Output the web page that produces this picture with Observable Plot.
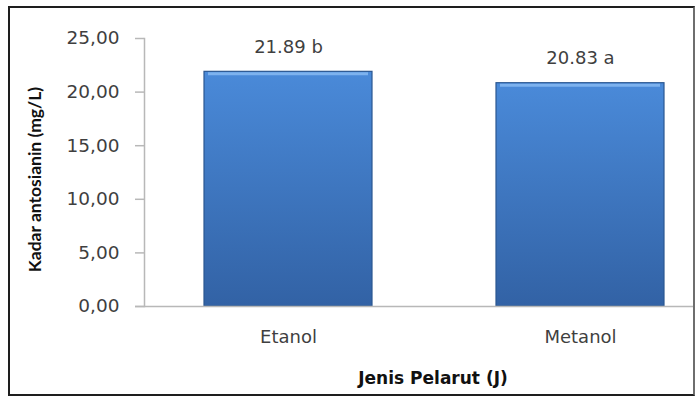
<!DOCTYPE html>
<html><head><meta charset="utf-8">
<script src="https://cdn.jsdelivr.net/npm/d3@7"></script>
<script src="https://cdn.jsdelivr.net/npm/@observablehq/plot@0.6"></script>
<style>
body{margin:0;background:#fff;}
#wrap{position:relative;width:697px;height:396px;overflow:hidden;}
#border{position:absolute;left:8px;top:6px;width:683px;height:386px;border:2px solid #1e1e1e;border-right-color:#6e6e6e;pointer-events:none;}
#wrap svg{position:absolute;left:0;top:0;}
</style></head><body><div id="wrap"><div id="border"></div></div>
<script>
const solvents = ["Etanol", "Metanol"];
const values = [21.89, 20.83];
const letters = ["b", "a"];
const yTicks = [0, 5, 10, 15, 20, 25];
const xTitle = "Jenis Pelarut (J)";
const yTitle = "Kadar antosianin (mg/L)";

const data = solvents.map((s, i) => ({solvent: s, value: values[i], label: values[i].toFixed(2) + " " + letters[i]}));
const fmt = d => d3.format(".2f")(d).replace(".", ",");
const txt = "#3f3f3f";
const axisGray = "#b8b8b8";

const svg = Plot.plot({
  width: 697,
  height: 396,
  marginTop: 38,
  marginBottom: 90,
  marginLeft: 144,
  marginRight: 4,
  style: {fontFamily: "DejaVu Sans", background: "transparent"},
  x: {domain: solvents, insetLeft: 60, insetRight: 29, paddingInner: 0.425, paddingOuter: 0},
  y: {domain: [0, 25], nice: false},
  marks: [
    Plot.frame({anchor: "left", stroke: axisGray, strokeWidth: 1.5}),
    Plot.barY(data, {x: "solvent", y: "value", fill: "url(#barGrad)", stroke: "#2b5791", strokeWidth: 1.2}),
    Plot.tickY(data, {x: "solvent", y: "value", stroke: "#7db2ee", strokeWidth: 3, dy: 2, inset: 4}),
    Plot.ruleY([0], {stroke: axisGray, strokeWidth: 1.5, insetLeft: -9}),
    Plot.axisY(yTicks, {tickFormat: fmt, tickSize: 9, tickPadding: 16, fontSize: 18.5, fill: txt, stroke: axisGray, strokeWidth: 1.5, label: null, style: {letterSpacing: "1.3px"}}),
    Plot.axisX({tickSize: 0, tickPadding: 24, fontSize: 18, fill: txt, label: null, style: {letterSpacing: "1px"}}),
    Plot.text(data, {x: "solvent", y: "value", text: "label", dy: -25, fontSize: 18, fill: txt, style: {letterSpacing: "0.8px"}}),
    Plot.text([yTitle], {frameAnchor: "left", textAnchor: "middle", dx: -109, dy: 7, rotate: -90, fontSize: 17.5, fontWeight: "bold", fontFamily: "Lato", fill: "#111"}),
    Plot.text([xTitle], {frameAnchor: "bottom", dx: 14, dy: 77, fontSize: 17, fontWeight: "bold", fontFamily: "DejaVu Sans", fill: "#111"})
  ]
});

const defs = d3.select(svg).insert("defs", ":first-child");
const g = defs.append("linearGradient").attr("id", "barGrad").attr("x1", 0).attr("y1", 0).attr("x2", 0).attr("y2", 1);
g.append("stop").attr("offset", "0%").attr("stop-color", "#4a8ad9");
g.append("stop").attr("offset", "100%").attr("stop-color", "#3262a5");

document.getElementById("wrap").prepend(svg);
</script>
</body></html>
